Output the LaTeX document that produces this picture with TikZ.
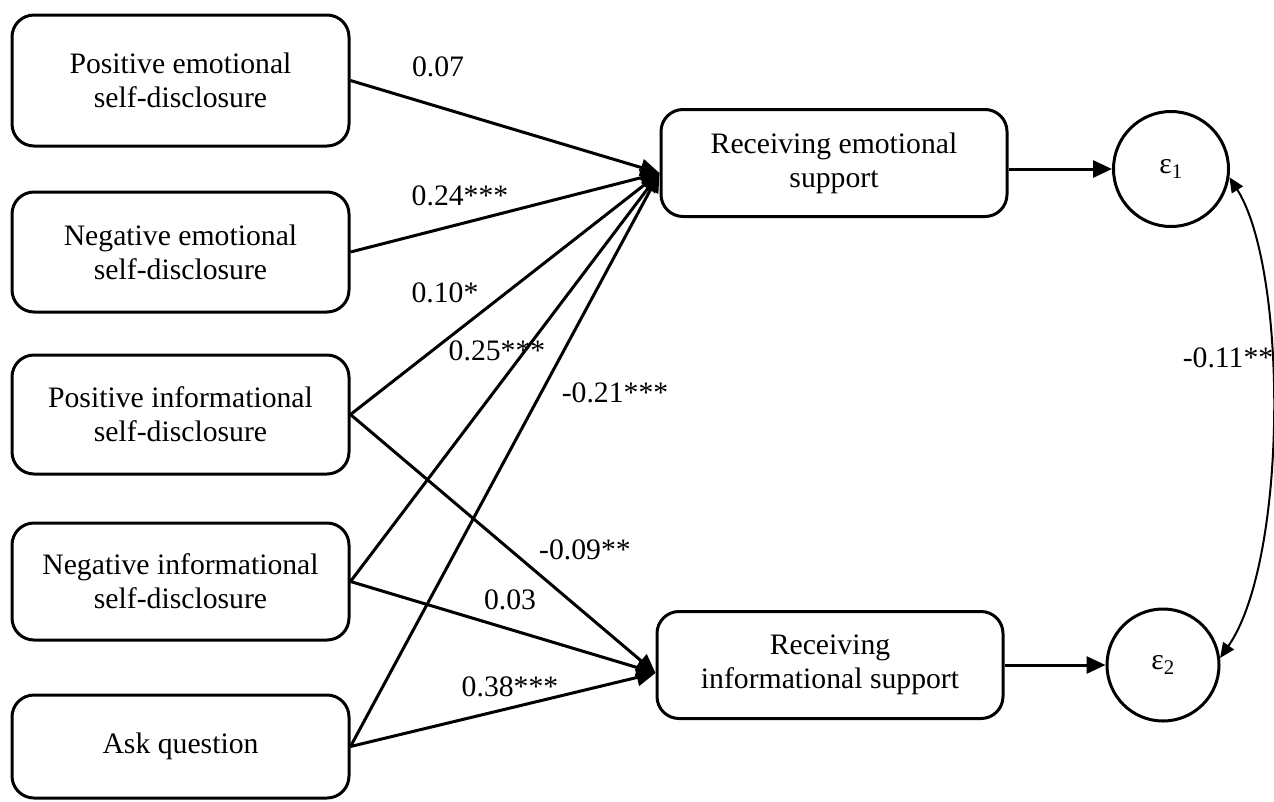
\documentclass[tikz,border=0pt]{standalone}
\usepackage{fontspec}
\setmainfont{Liberation Serif}
\usetikzlibrary{arrows.meta}
\begin{document}
\begin{tikzpicture}[x=1pt,y=-1pt,
  every node/.style={font=\fontsize{29.7}{34}\selectfont},
  varbox/.style={draw, line width=3pt, rounded corners=22pt, align=center, inner sep=0pt},
  leftbox/.style={varbox, minimum width=337pt},
  rightbox/.style={varbox, minimum width=346pt, minimum height=107pt},
  errc/.style={draw, circle, line width=3pt, inner sep=0pt},
  arr/.style={line width=3pt, -{Triangle[length=19pt,width=17pt]}},
  corr/.style={line width=2pt, {Triangle[length=15pt,width=13pt]}-{Triangle[length=15pt,width=13pt]}},
  coef/.style={inner sep=0pt}
]
\useasboundingbox (0,0) rectangle (1274,801);
% left boxes
\node[leftbox, minimum height=131pt] (b1) at (180.5,80.5) {Positive emotional\\self-disclosure};
\node[leftbox, minimum height=120pt] (b2) at (180.5,252) {Negative emotional\\self-disclosure};
\node[leftbox, minimum height=119pt] (b3) at (180.5,414.5) {Positive informational\\self-disclosure};
\node[leftbox, minimum height=117pt] (b4) at (180.5,581.5) {Negative informational\\self-disclosure};
\node[leftbox, minimum height=103pt] (b5) at (180.5,746.5) {Ask question};
% right boxes
\node[rightbox] (re) at (834,163) {Receiving emotional\\support};
\node[rightbox] (ri) at (830,665) {Receiving\\informational support};
% error terms
\node[errc, minimum size=115pt] (e1) at (1171,169) {ε\textsubscript{1}};
\node[errc, minimum size=112pt] (e2) at (1163,665) {ε\textsubscript{2}};
% paths to emotional support
\draw[arr] (b1.east) -- ([yshift=-10pt]re.west);
\draw[arr] (b2.east) -- ([yshift=-10pt]re.west);
\draw[arr] (b3.east) -- ([yshift=-10pt]re.west);
\draw[arr] (b4.east) -- ([yshift=-10pt]re.west);
\draw[arr] (b5.east) -- ([yshift=-10pt]re.west);
% paths to informational support
\draw[arr] (b3.east) -- ([yshift=-8pt]ri.west);
\draw[arr] (b4.east) -- ([yshift=-8pt]ri.west);
\draw[arr] (b5.east) -- ([yshift=-8pt]ri.west);
% to error terms
\draw[arr] ([yshift=-6pt]re.east) -- (e1.west);
\draw[arr] (ri.east) -- (e2.west);
% correlation
\draw[corr] (e1.-8) .. controls (1288,270) and (1288,560) .. (e2.7);
% coefficients
\node[coef] (c1) at (438,67) {0.07};
\node[coef] (c2) at (460,196) {0.24***};
\node[coef] (c3) at (445,293) {0.10*};
\node[coef] (c4) at (497,351) {0.25***};
\node[coef] (c5) at (615,393) {-0.21***};
\node[coef] (c6) at (585,550) {-0.09**};
\node[coef] (c7) at (510,600) {0.03};
\node[coef] (c8) at (510,687) {0.38***};
\node[coef] (c9) at (1228,358) {-0.11**};
\end{tikzpicture}
\end{document}
